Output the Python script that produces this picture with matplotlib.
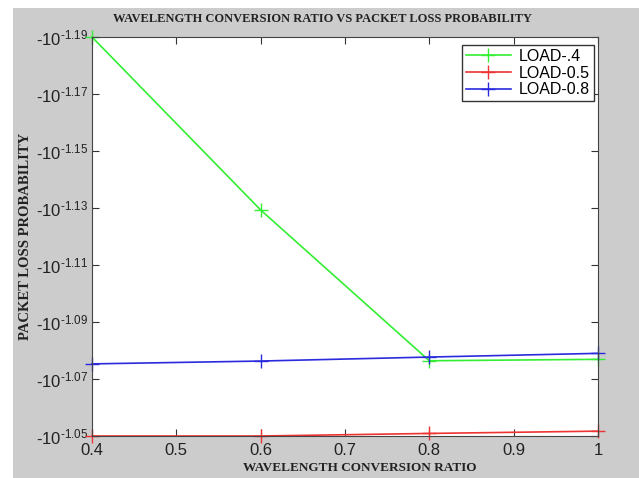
import matplotlib
matplotlib.use('Agg')
from matplotlib import pyplot as plt
from matplotlib.patches import Rectangle

plt.rcParams['mathtext.fontset'] = 'custom'
plt.rcParams['mathtext.rm'] = 'Liberation Sans'
plt.rcParams['mathtext.it'] = 'Liberation Sans'

# conversion ratio (x) and the exponent e of the plotted value -10^e
ratio = [0.4, 0.6, 0.8, 1.0]
load_04 = [-1.1900, -1.1293, -1.0764, -1.0769]
load_05 = [-1.0500, -1.0500, -1.0509, -1.0517]
load_08 = [-1.0753, -1.0763, -1.0777, -1.0790]

y_ticks = [-1.19, -1.17, -1.15, -1.13, -1.11, -1.09, -1.07, -1.05]
x_ticks = [0.4, 0.5, 0.6, 0.7, 0.8, 0.9, 1.0]
x_labels = ['0.4', '0.5', '0.6', '0.7', '0.8', '0.9', '1']

fig = plt.figure(figsize=(6.39, 4.78), dpi=100, facecolor='white')
# grey matlab-like window background
bg = Rectangle((13 / 639, 0), 1, 1 - 8 / 478, transform=fig.transFigure,
               facecolor='#cccccc', edgecolor='none', zorder=-5)
fig.add_artist(bg)

ax = fig.add_axes([92 / 639, 1 - 436 / 478, (598 - 92) / 639, (436 - 37) / 478])
ax.set_zorder(2)
ax.set_facecolor('white')

ax.plot(ratio, load_04, color='#33ee33', marker='+', markersize=10, lw=1.2, label='LOAD-.4', clip_on=False)
ax.plot(ratio, load_05, color='#ee3333', marker='+', markersize=10, lw=1.2, label='LOAD-0.5', clip_on=False)
ax.plot(ratio, load_08, color='#2b2bdd', marker='+', markersize=10, lw=1.2, label='LOAD-0.8', clip_on=False)

ax.set_xlim(0.4, 1.0)
ax.set_ylim(-1.05, -1.19)
ax.set_xticks(x_ticks)
ax.set_xticklabels(x_labels)
ax.set_yticks(y_ticks)
ax.set_yticklabels(['-10$^{\\text{-}%.2f}$' % abs(t) for t in y_ticks])
ax.tick_params(direction='in', top=True, right=True, length=5, color='#333333',
               labelsize=12, labelcolor='#222222')
ax.tick_params(axis='y', pad=3)
ax.tick_params(axis='x', pad=5)
for lab in ax.get_xticklabels() + ax.get_yticklabels():
    lab.set_family('Liberation Sans')
for s in ax.spines.values():
    s.set_color('#444444')

ax.set_title('WAVELENGTH CONVERSION RATIO VS PACKET LOSS PROBABILITY', family='Liberation Serif',
             fontweight='bold', fontsize=9, color='#222222', pad=11, x=0.455)
ax.set_xlabel('WAVELENGTH CONVERSION RATIO', family='Liberation Serif', fontweight='bold',
              fontsize=9.5, color='#222222', labelpad=2)
ax.xaxis.set_label_coords(0.53, -0.065)
ax.set_ylabel('PACKET LOSS PROBABILITY', family='Liberation Serif', fontweight='bold',
              fontsize=10.5, color='#222222')
ax.yaxis.set_label_coords(-0.118, 0.5)

leg = ax.legend(loc='upper right', fancybox=False, edgecolor='#333333',
                prop={'family': 'Liberation Sans', 'size': 11.5}, handlelength=2.8,
                borderpad=0.25, labelspacing=0.1, handletextpad=0.5, framealpha=1,
                borderaxespad=0, bbox_to_anchor=(0.992, 0.98))

fig.savefig('out.png', dpi=100, facecolor=fig.get_facecolor())
